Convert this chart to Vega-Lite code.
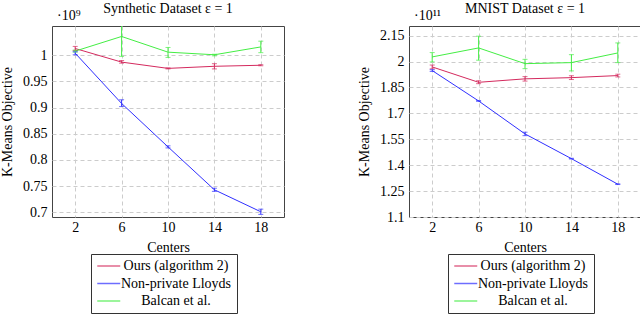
{
  "$schema": "https://vega.github.io/schema/vega-lite/v6.json",
  "padding": {"left": 0, "top": 1, "right": 0, "bottom": 0},
  "spacing": 72,
  "datasets": {
    "syn": [
      {"c": 2, "s": "Ours (algorithm 2)", "v": 1.013, "lo": 1.009, "hi": 1.017},
      {"c": 6, "s": "Ours (algorithm 2)", "v": 0.987, "lo": 0.985, "hi": 0.990},
      {"c": 10, "s": "Ours (algorithm 2)", "v": 0.975, "lo": 0.974, "hi": 0.976},
      {"c": 14, "s": "Ours (algorithm 2)", "v": 0.979, "lo": 0.974, "hi": 0.984},
      {"c": 18, "s": "Ours (algorithm 2)", "v": 0.981, "lo": 0.980, "hi": 0.982},
      {"c": 2, "s": "Non-private Lloyds", "v": 1.004, "lo": 1.001, "hi": 1.007},
      {"c": 6, "s": "Non-private Lloyds", "v": 0.908, "lo": 0.902, "hi": 0.915},
      {"c": 10, "s": "Non-private Lloyds", "v": 0.825, "lo": 0.823, "hi": 0.827},
      {"c": 14, "s": "Non-private Lloyds", "v": 0.743, "lo": 0.740, "hi": 0.746},
      {"c": 18, "s": "Non-private Lloyds", "v": 0.701, "lo": 0.696, "hi": 0.706},
      {"c": 2, "s": "Balcan et al.", "v": 1.008, "lo": 1.006, "hi": 1.010},
      {"c": 6, "s": "Balcan et al.", "v": 1.036, "lo": 0.998, "hi": 1.075},
      {"c": 10, "s": "Balcan et al.", "v": 1.006, "lo": 0.996, "hi": 1.015},
      {"c": 14, "s": "Balcan et al.", "v": 1.001, "lo": 0.999, "hi": 1.002},
      {"c": 18, "s": "Balcan et al.", "v": 1.016, "lo": 1.005, "hi": 1.027}
    ],
    "mnist": [
      {"c": 2, "s": "Ours (algorithm 2)", "v": 1.969, "lo": 1.958, "hi": 1.980},
      {"c": 6, "s": "Ours (algorithm 2)", "v": 1.880, "lo": 1.872, "hi": 1.889},
      {"c": 10, "s": "Ours (algorithm 2)", "v": 1.900, "lo": 1.887, "hi": 1.913},
      {"c": 14, "s": "Ours (algorithm 2)", "v": 1.907, "lo": 1.896, "hi": 1.918},
      {"c": 18, "s": "Ours (algorithm 2)", "v": 1.919, "lo": 1.911, "hi": 1.927},
      {"c": 2, "s": "Non-private Lloyds", "v": 1.948, "lo": 1.943, "hi": 1.953},
      {"c": 6, "s": "Non-private Lloyds", "v": 1.772, "lo": 1.770, "hi": 1.774},
      {"c": 10, "s": "Non-private Lloyds", "v": 1.581, "lo": 1.571, "hi": 1.591},
      {"c": 14, "s": "Non-private Lloyds", "v": 1.438, "lo": 1.436, "hi": 1.440},
      {"c": 18, "s": "Non-private Lloyds", "v": 1.290, "lo": 1.288, "hi": 1.292},
      {"c": 2, "s": "Balcan et al.", "v": 2.027, "lo": 1.998, "hi": 2.052},
      {"c": 6, "s": "Balcan et al.", "v": 2.079, "lo": 2.008, "hi": 2.147},
      {"c": 10, "s": "Balcan et al.", "v": 1.988, "lo": 1.959, "hi": 2.013},
      {"c": 14, "s": "Balcan et al.", "v": 1.994, "lo": 1.946, "hi": 2.040},
      {"c": 18, "s": "Balcan et al.", "v": 2.050, "lo": 1.994, "hi": 2.108}
    ]
  },
  "hconcat": [
    {
      "title": {"text": "Synthetic Dataset ε = 1"},
      "width": 232,
      "height": 191,
      "data": {"name": "syn"},
      "encoding": {
        "x": {"field": "c", "type": "quantitative", "title": "Centers", "scale": {"domain": [0, 20], "nice": false}, "axis": {"values": [2, 6, 10, 14, 18]}},
        "color": {"field": "s", "type": "nominal", "scale": {"domain": ["Ours (algorithm 2)", "Non-private Lloyds", "Balcan et al."], "range": ["#d42a5e", "#3030ff", "#44ee44"]}, "legend": {"orient": "none", "legendX": 39, "legendY": 228, "title": null}}
      },
      "layer": [
        {"mark": {"type": "line", "strokeWidth": 1, "clip": true},
         "encoding": {"y": {"field": "v", "type": "quantitative", "title": "K-Means Objective", "scale": {"domain": [0.691, 1.056], "nice": false, "zero": false}, "axis": {"values": [0.7, 0.75, 0.8, 0.85, 0.9, 0.95, 1], "format": ".2~f", "labelOverlap": false}}}},
        {"mark": {"type": "errorbar", "ticks": {"size": 5}, "thickness": 1, "clip": true},
         "encoding": {"y": {"field": "lo", "type": "quantitative", "title": "K-Means Objective", "axis": {"values": [0.7, 0.75, 0.8, 0.85, 0.9, 0.95, 1], "format": ".2~f", "labelOverlap": false}}, "y2": {"field": "hi"}}},
        {"data": {"values": [{"t": "·10⁹", "xx": 0, "yy": 1.056}]},
         "mark": {"type": "text", "align": "left", "baseline": "middle", "dx": 5, "dy": -10, "font": "Liberation Serif", "fontSize": 14, "fill": "#000"},
         "encoding": {"x": {"field": "xx", "type": "quantitative"}, "y": {"field": "yy", "type": "quantitative", "axis": {"values": [0.7, 0.75, 0.8, 0.85, 0.9, 0.95, 1], "format": ".2~f", "labelOverlap": false}}, "text": {"field": "t", "type": "nominal"}, "color": {"value": "#000"}}}
      ]
    },
    {
      "title": {"text": "MNIST Dataset ε = 1"},
      "width": 232,
      "height": 191,
      "data": {"name": "mnist"},
      "encoding": {
        "x": {"field": "c", "type": "quantitative", "title": "Centers", "scale": {"domain": [0, 20], "nice": false}, "axis": {"values": [2, 6, 10, 14, 18]}},
        "color": {"field": "s", "type": "nominal", "scale": {"domain": ["Ours (algorithm 2)", "Non-private Lloyds", "Balcan et al."], "range": ["#d42a5e", "#3030ff", "#44ee44"]}, "legend": {"orient": "none", "legendX": 39, "legendY": 228, "title": null}}
      },
      "layer": [
        {"mark": {"type": "line", "strokeWidth": 1, "clip": true},
         "encoding": {"y": {"field": "v", "type": "quantitative", "title": "K-Means Objective", "scale": {"domain": [1.1, 2.206], "nice": false, "zero": false}, "axis": {"values": [1.1, 1.25, 1.4, 1.55, 1.7, 1.85, 2, 2.15], "format": ".2~f", "labelOverlap": false}}}},
        {"mark": {"type": "errorbar", "ticks": {"size": 5}, "thickness": 1, "clip": true},
         "encoding": {"y": {"field": "lo", "type": "quantitative", "title": "K-Means Objective", "axis": {"values": [1.1, 1.25, 1.4, 1.55, 1.7, 1.85, 2, 2.15], "format": ".2~f", "labelOverlap": false}}, "y2": {"field": "hi"}}},
        {"data": {"values": [{"t": "·10¹¹", "xx": 0, "yy": 2.206}]},
         "mark": {"type": "text", "align": "left", "baseline": "middle", "dx": 5, "dy": -10, "font": "Liberation Serif", "fontSize": 14, "fill": "#000"},
         "encoding": {"x": {"field": "xx", "type": "quantitative"}, "y": {"field": "yy", "type": "quantitative", "axis": {"values": [1.1, 1.25, 1.4, 1.55, 1.7, 1.85, 2, 2.15], "format": ".2~f", "labelOverlap": false}}, "text": {"field": "t", "type": "nominal"}, "color": {"value": "#000"}}}
      ]
    }
  ],
  "resolve": {"scale": {"y": "independent", "color": "independent"}, "legend": {"color": "independent"}},
  "config": {
    "font": "Liberation Serif",
    "view": {"stroke": "#444", "strokeWidth": 1},
    "axis": {"grid": true, "gridDash": [4, 3], "gridColor": "#cccccc", "domain": false, "ticks": false, "labelFont": "Liberation Serif", "labelFontSize": 14, "labelColor": "#000", "labelPadding": 5, "titleFont": "Liberation Serif", "titleFontSize": 14, "titleFontWeight": "normal", "titleColor": "#000"},
    "axisY": {"titlePadding": 8},
    "axisX": {"labelPadding": 3, "titlePadding": 6},
    "title": {"font": "Liberation Serif", "fontSize": 14, "fontWeight": "normal", "color": "#000", "offset": -7},
    "legend": {"strokeColor": "#333", "fillColor": "#fff", "padding": 5, "symbolType": "M-1,0H3", "symbolSize": 132, "symbolStrokeWidth": 1.5, "symbolOpacity": 0.7, "labelAlign": "center", "labelOffset": 66, "labelFont": "Liberation Serif", "labelFontSize": 14, "labelColor": "#000", "labelLimit": 200, "rowPadding": 3.5}
  }
}
